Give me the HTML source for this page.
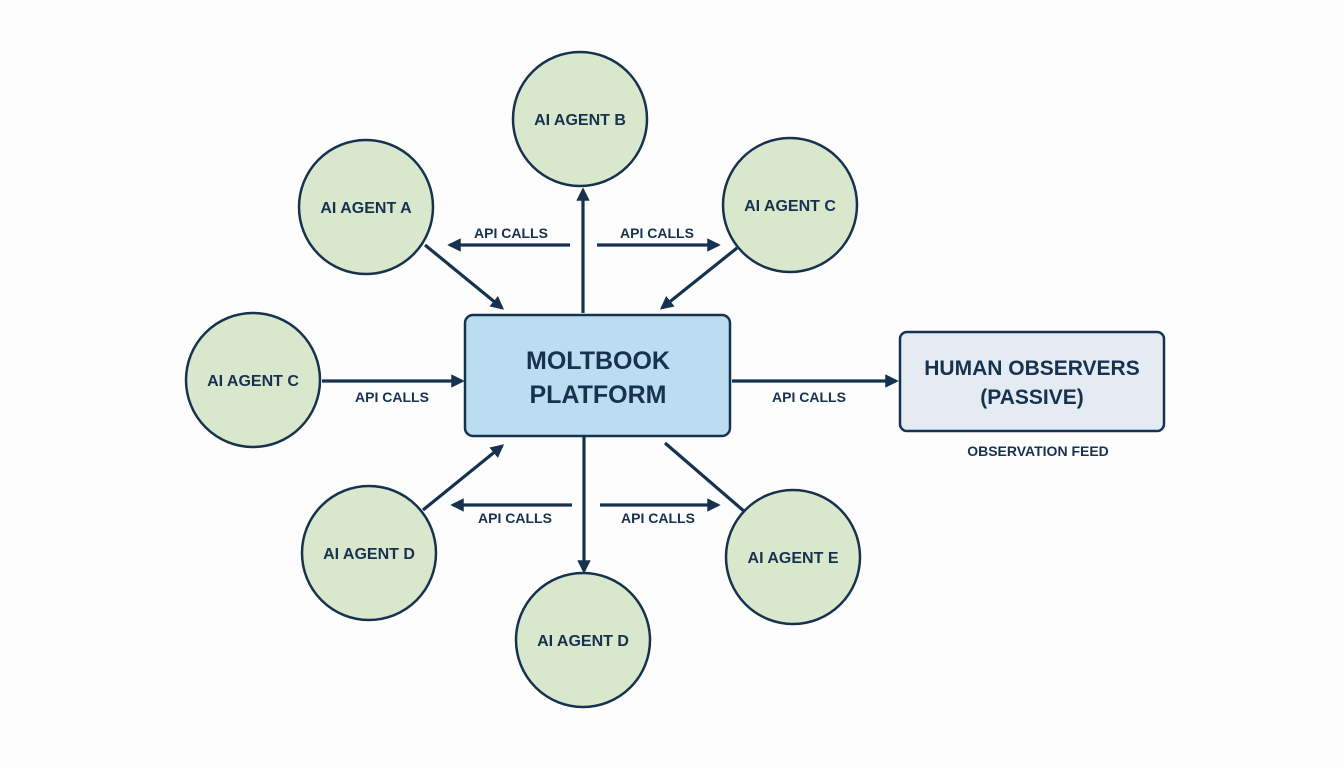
<!DOCTYPE html>
<html><head><meta charset="utf-8"><style>
html,body{margin:0;padding:0;background:#fdfdfd;}
svg{display:block;}
text{font-family:"Liberation Sans",sans-serif;font-weight:bold;fill:#16324f;}
</style></head><body>
<svg width="1344" height="768" viewBox="0 0 1344 768" xmlns="http://www.w3.org/2000/svg">
<defs>
<marker id="a" viewBox="0 0 10 10" refX="8" refY="5" markerWidth="4.2" markerHeight="4.2" orient="auto-start-reverse" markerUnits="strokeWidth">
<path d="M0,0 L10,5 L0,10 z" fill="#16324f"/></marker>
</defs>
<g fill="#d9e8cc" stroke="#16324f" stroke-width="2.5">
<circle cx="580" cy="119" r="67"/>
<circle cx="366" cy="207" r="67"/>
<circle cx="790" cy="205" r="67"/>
<circle cx="253" cy="380" r="67"/>
<circle cx="369" cy="553" r="67"/>
<circle cx="583" cy="640" r="67"/>
<circle cx="793" cy="557" r="67"/>
</g>
<rect x="465" y="315" width="265" height="121" rx="8" fill="#bcdcf1" stroke="#16324f" stroke-width="2.5"/>
<rect x="900" y="332" width="264" height="99" rx="7" fill="#e4ebf3" stroke="#16324f" stroke-width="2.5"/>
<g stroke="#16324f" stroke-width="3.2" fill="none">
<line x1="583" y1="313" x2="583" y2="190" marker-end="url(#a)"/>
<line x1="570" y1="245" x2="450" y2="245" marker-end="url(#a)"/>
<line x1="597" y1="245" x2="718" y2="245" marker-end="url(#a)"/>
<line x1="425" y1="245" x2="502" y2="308" marker-end="url(#a)"/>
<line x1="737" y1="248" x2="662" y2="308" marker-end="url(#a)"/>
<line x1="322" y1="381" x2="462" y2="381" marker-end="url(#a)"/>
<line x1="732" y1="381" x2="896" y2="381" marker-end="url(#a)"/>
<line x1="584" y1="437" x2="584" y2="571" marker-end="url(#a)"/>
<line x1="572" y1="505" x2="453" y2="505" marker-end="url(#a)"/>
<line x1="600" y1="505" x2="718" y2="505" marker-end="url(#a)"/>
<line x1="423" y1="510" x2="502" y2="446" marker-end="url(#a)"/>
<line x1="665" y1="443" x2="745" y2="512"/>
</g>
<g font-size="16" text-anchor="middle">
<text x="580" y="125">AI AGENT B</text>
<text x="366" y="213">AI AGENT A</text>
<text x="790" y="211">AI AGENT C</text>
<text x="253" y="386">AI AGENT C</text>
<text x="369" y="559">AI AGENT D</text>
<text x="583" y="646">AI AGENT D</text>
<text x="793" y="563">AI AGENT E</text>
</g>
<g font-size="14" text-anchor="middle">
<text x="511" y="238">API CALLS</text>
<text x="657" y="238">API CALLS</text>
<text x="392" y="402">API CALLS</text>
<text x="809" y="402">API CALLS</text>
<text x="515" y="523">API CALLS</text>
<text x="658" y="523">API CALLS</text>
<text x="1038" y="456">OBSERVATION FEED</text>
</g>
<g font-size="25" text-anchor="middle">
<text x="598" y="369">MOLTBOOK</text>
<text x="598" y="403">PLATFORM</text>
</g>
<g font-size="21" text-anchor="middle">
<text x="1032" y="375">HUMAN OBSERVERS</text>
<text x="1032" y="404">(PASSIVE)</text>
</g>
</svg>
</body></html>
